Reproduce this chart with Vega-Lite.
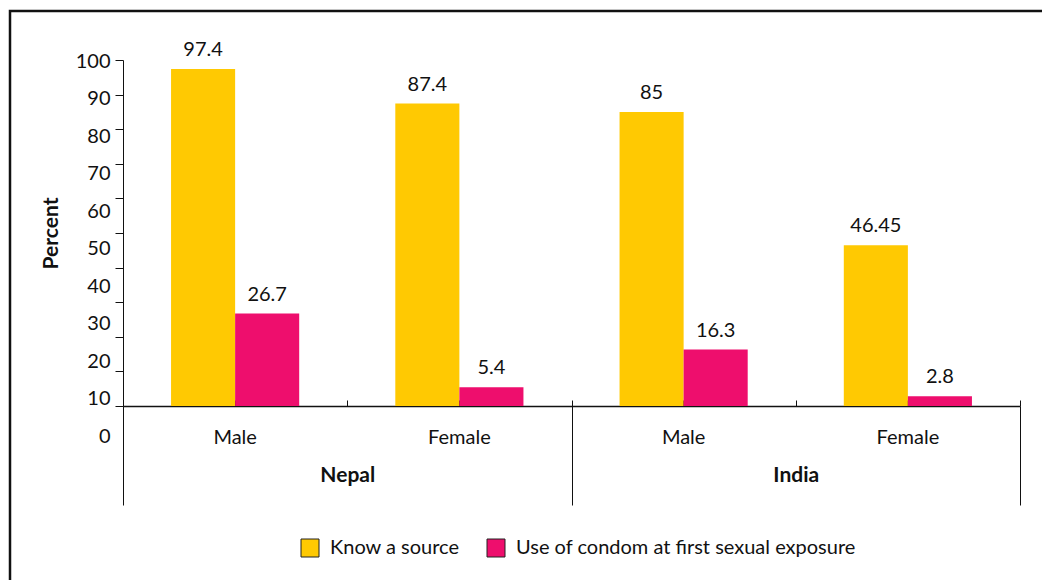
{
  "$schema": "https://vega.github.io/schema/vega-lite/v6.json",
  "autosize": {"type": "none"},
  "padding": {"left": 10, "top": 11, "right": 0, "bottom": 0},
  "width": 1045,
  "height": 580,
  "background": "white",
  "config": {
    "font": "Lato",
    "view": {"stroke": "#111", "strokeWidth": 2.5},
    "axis": {"grid": false, "domainColor": "#111", "tickColor": "#111", "labelColor": "#111", "labelFont": "Lato", "labelFontSize": 20, "titleFont": "Lato", "titleColor": "#111"}
  },
  "data": {
    "values": [
      {"country": "Nepal", "gender": "Male", "group": "Nepal|Male", "series": "Know a source", "value": 97.4},
      {"country": "Nepal", "gender": "Male", "group": "Nepal|Male", "series": "Use of condom at first sexual exposure", "value": 26.7},
      {"country": "Nepal", "gender": "Female", "group": "Nepal|Female", "series": "Know a source", "value": 87.4},
      {"country": "Nepal", "gender": "Female", "group": "Nepal|Female", "series": "Use of condom at first sexual exposure", "value": 5.4},
      {"country": "India", "gender": "Male", "group": "India|Male", "series": "Know a source", "value": 85},
      {"country": "India", "gender": "Male", "group": "India|Male", "series": "Use of condom at first sexual exposure", "value": 16.3},
      {"country": "India", "gender": "Female", "group": "India|Female", "series": "Know a source", "value": 46.45},
      {"country": "India", "gender": "Female", "group": "India|Female", "series": "Use of condom at first sexual exposure", "value": 2.8}
    ]
  },
  "layer": [
    {
      "mark": {"type": "bar"},
      "encoding": {
        "x": {
          "field": "group", "type": "nominal",
          "sort": ["Nepal|Male", "Nepal|Female", "India|Male", "India|Female"],
          "scale": {"range": [113, 1010], "paddingInner": 0, "paddingOuter": 0},
          "axis": {"orient": "bottom", "offset": -185, "title": null, "labelAngle": 0, "tickSize": -6, "labelPadding": 27, "domainWidth": 1.3, "labelExpr": "split(datum.label, '|')[1]"}
        },
        "xOffset": {
          "field": "series", "type": "nominal",
          "sort": ["Know a source", "Use of condom at first sexual exposure"],
          "scale": {"paddingInner": 0, "paddingOuter": 0.75}
        },
        "y": {
          "field": "value", "type": "quantitative",
          "scale": {"domain": [0, 100], "range": [395, 49], "nice": false},
          "axis": {"orient": "left", "offset": -113, "values": [0, 10, 20, 30, 40, 50, 60, 70, 80, 90, 100], "tickSize": 8, "labelPadding": 5, "labelOffset": {"expr": "(100 - datum.value) * 0.29 + 1"}, "title": "Percent", "titleFontWeight": "bold", "titleFontSize": 21, "titlePadding": 14}
        },
        "color": {
          "field": "series", "type": "nominal",
          "sort": ["Know a source", "Use of condom at first sexual exposure"],
          "scale": {"range": ["#FFC902", "#EE0E6D"]},
          "legend": {"orient": "none", "direction": "horizontal", "legendX": 290, "legendY": 527, "title": null, "symbolType": "square", "symbolSize": 324, "symbolStrokeColor": "#222", "symbolStrokeWidth": 1, "labelFont": "Lato", "labelFontSize": 20, "labelColor": "#111", "labelOffset": 10, "labelLimit": 0, "columnPadding": 25, "padding": 0}
        }
      }
    },
    {
      "mark": {"type": "text", "baseline": "alphabetic", "dy": -13, "fontSize": 20, "color": "#111"},
      "encoding": {
        "x": {
          "field": "group", "type": "nominal",
          "sort": ["Nepal|Male", "Nepal|Female", "India|Male", "India|Female"],
          "scale": {"range": [113, 1010], "paddingInner": 0, "paddingOuter": 0},
          "axis": {"orient": "bottom", "offset": -185, "title": null, "labels": false, "domain": false, "tickBand": "extent", "tickSize": -6}
        },
        "xOffset": {
          "field": "series", "type": "nominal",
          "sort": ["Know a source", "Use of condom at first sexual exposure"],
          "scale": {"type": "band", "paddingInner": 0, "paddingOuter": 0.75}
        },
        "y": {"field": "value", "type": "quantitative"},
        "text": {"field": "value", "type": "nominal"}
      }
    },
    {
      "mark": {"type": "point", "opacity": 0},
      "encoding": {
        "x": {
          "field": "country", "type": "nominal",
          "sort": ["Nepal", "India"],
          "scale": {"range": [113, 1010], "paddingInner": 0, "paddingOuter": 0},
          "axis": {"orient": "bottom", "offset": -185, "title": null, "labelAngle": 0, "domain": false, "tickBand": "extent", "tickSize": 99, "labelPadding": -41, "labelFontSize": 21, "labelFontWeight": "bold"}
        }
      }
    }
  ],
  "resolve": {
    "scale": {"x": "independent", "xOffset": "independent"},
    "axis": {"x": "independent"}
  }
}
